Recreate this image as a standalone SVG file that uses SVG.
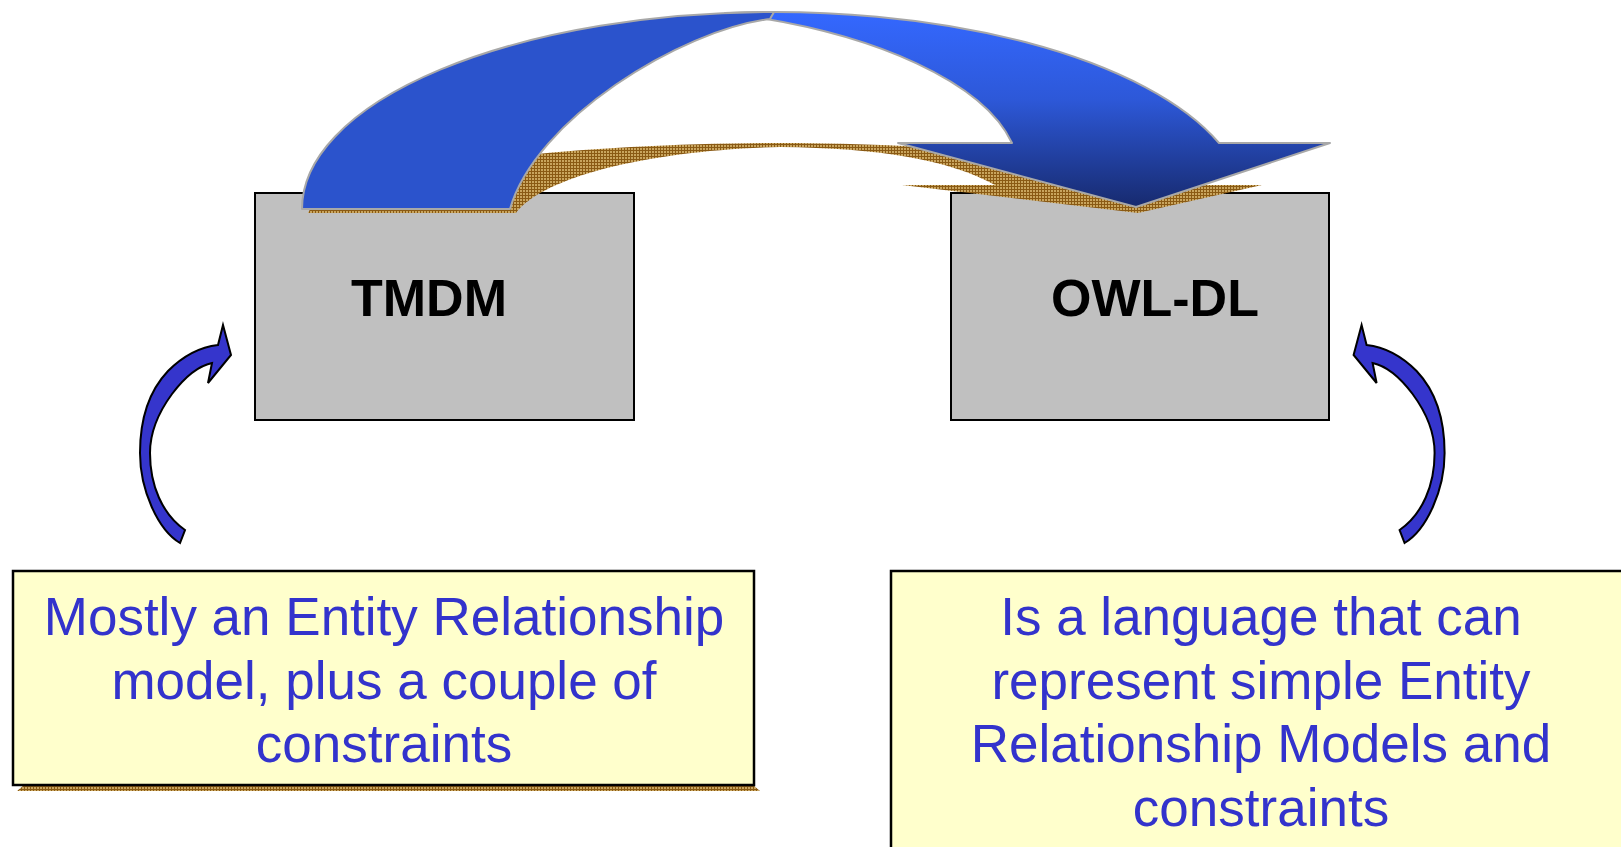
<svg xmlns="http://www.w3.org/2000/svg" width="1621" height="847" viewBox="0 0 1621 847">
  <defs>
    <style>
      .box { fill: #C0C0C0; stroke: #000; stroke-width: 2; }
      .note { fill: #FFFFCC; stroke: #000; stroke-width: 2.5; }
      .title { font-family: "Liberation Sans", Arial, sans-serif; font-weight: bold; font-size: 52px; fill: #000; }
      .body { font-family: "Liberation Sans", Arial, sans-serif; font-size: 53px; fill: #3333CC; text-anchor: middle; }
      .band { stroke: #A8A8A8; stroke-width: 2; stroke-linejoin: round; }
      .curl { fill: #3535CC; stroke: #000; stroke-width: 2; stroke-linejoin: miter; }
    </style>
    <!-- woven brown texture used for the drop shadows -->
    <pattern id="weave" width="3" height="3" patternUnits="userSpaceOnUse">
      <rect width="3" height="3" fill="#C9A55E"/>
      <path d="M0 0.5H3M0.5 0V3" stroke="#8A5A14" stroke-width="1"/>
    </pattern>
    <linearGradient id="headGrad" gradientUnits="userSpaceOnUse" x1="0" y1="12" x2="0" y2="207">
      <stop offset="0" stop-color="#3468FF"/>
      <stop offset="0.45" stop-color="#2D58D8"/>
      <stop offset="1" stop-color="#172A6E"/>
    </linearGradient>
    <!-- small curled arrow, pointing up-right at a box -->
    <path id="curl" class="curl" d="M180,543 C158,530 140,490 140,453 C140,418 150,390 168,371 C184,355 200,347 218,345 L223,325 L231,355 L208,383 L212,363 C198,366 184,378 172,394 C158,413 150,432 150,453 C150,485 162,514 185,530 Z"/>
  </defs>

  <rect width="1621" height="847" fill="#FFFFFF"/>

  <g id="node-tmdm">
    <rect class="box" x="255" y="193" width="379" height="227"/>
    <text class="title" x="351" y="316">TMDM</text>
  </g>

  <g id="node-owldl">
    <rect class="box" x="951" y="193" width="378" height="227"/>
    <text class="title" x="1051" y="316">OWL-DL</text>
  </g>

  <g id="note-tmdm">
    <polygon points="17,791 24,785 753,785 760,791" fill="url(#weave)"/>
    <rect class="note" x="13" y="571" width="741" height="214"/>
    <text class="body" x="384" y="635">Mostly an Entity Relationship</text>
    <text class="body" x="384" y="698.5">model, plus a couple of</text>
    <text class="body" x="384" y="762">constraints</text>
  </g>

  <g id="note-owldl">
    <rect class="note" x="891" y="571" width="745" height="290"/>
    <text class="body" x="1261" y="635">Is a language that can</text>
    <text class="body" x="1261" y="698.5">represent simple Entity</text>
    <text class="body" x="1261" y="762">Relationship Models and</text>
    <text class="body" x="1261" y="825.5">constraints</text>
  </g>

  <g id="connectors">
    <!-- big curved arrow TMDM -> OWL-DL with its flattened shadow -->
    <g id="edge-tmdm-owldl">
      <path d="M308,213 C330,170 560,143 780,143 C950,143 1120,160 1180,185 L1262,185 L1138,213 L902,185 L995,185 C950,160 880,148 780,147 C655,150 545,175 516,213 Z" fill="url(#weave)"/>
      <path class="band" fill="url(#headGrad)" d="M725,13 A472,197 0 0 1 1219,143 L1330,143 L1136,207 L898,143 L1012,143 C985,85 880,32 725,13 Z"/>
      <path class="band" fill="#2B53CC" d="M302,209 A472,197 0 0 1 774,12 L770,19 C680,30 535,120 510,209 Z"/>
    </g>
    <!-- curled arrows from the notes up to their boxes -->
    <g id="edge-note-tmdm">
      <use href="#curl"/>
    </g>
    <g id="edge-note-owldl">
      <use href="#curl" transform="translate(1584.6,0) scale(-1,1)"/>
    </g>
  </g>
</svg>
